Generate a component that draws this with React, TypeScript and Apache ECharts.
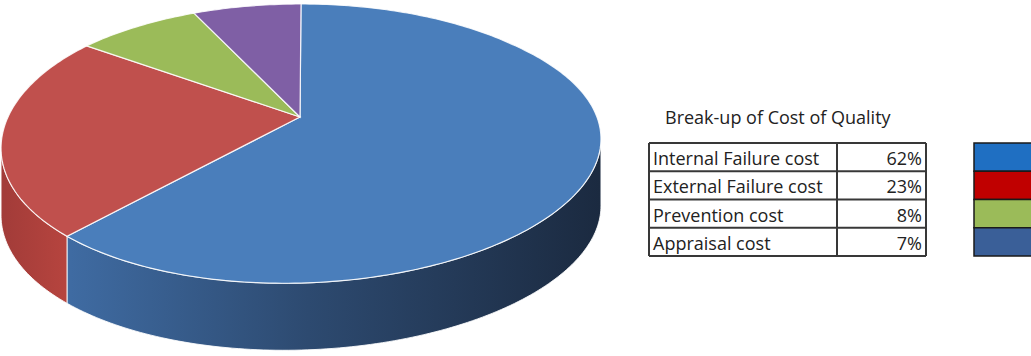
import React, { useEffect, useRef } from "react";
import * as echarts from "echarts";

const CATEGORIES = ["Internal Failure cost", "External Failure cost", "Prevention cost", "Appraisal cost"];
const VALUES = [62, 23, 8, 7];
const SLICE_COLORS = ["#4a7ebb", "#c0504d", "#9bbb59", "#7f5fa5"];
const LEGEND_COLORS = ["#1f6fc2", "#c00000", "#9bbb59", "#3a5f98"];
const TITLE = "Break-up of Cost of Quality";

// pie projection geometry (presentation only)
const CX = 301;
const CY = 117;
const R = 294.5;
const PA = 0.19;
const PB = 134.5;
const DEPTH = 67;
const VIS0 = (Math.acos(-PA) * 180) / Math.PI;
const VIS1 = 360 - VIS0;

function proj(deg: number, dy: number): number[] {
  const t = (deg * Math.PI) / 180;
  const X = Math.sin(t);
  const Z = Math.cos(t);
  const p = 1 / (1 + PA * Z);
  // slight roll so the left side sits a little lower than the right
  return [CX + R * X * p, CY - PB * Z * p + dy - 6 * X * Math.max(0, -Z + 0.6)];
}

function rim(a0: number, a1: number, dy: number): number[][] {
  const pts: number[][] = [];
  for (let t = a0; t < a1; t += 1) pts.push(proj(t, dy));
  pts.push(proj(a1, dy));
  return pts;
}

const SIDE_FILLS: any[] = [
  {
    type: "linear", x: 70, y: 0, x2: 600, y2: 0, global: true,
    colorStops: [
      { offset: 0, color: "#3f6ba2" },
      { offset: 0.45, color: "#2d4a70" },
      { offset: 1, color: "#1b2a40" },
    ],
  },
  {
    type: "linear", x: 5, y: 0, x2: 72, y2: 0, global: true,
    colorStops: [
      { offset: 0, color: "#a33c39" },
      { offset: 1, color: "#b8453f" },
    ],
  },
  "#7f9c46",
  "#684d89",
];

export default function App() {
  const ref = useRef<HTMLDivElement>(null);
  useEffect(() => {
    document.body.style.margin = "0";
    if (!ref.current) return;
    const chart = echarts.init(ref.current, null, { renderer: "svg" });
    const total = VALUES.reduce((s, v) => s + v, 0);
    const font = "Open Sans";
    const fs = 18;
    const tableLeft = 649;
    const tableRight = 926;
    const divider = 837;
    const top = 143;
    const rowH = 28.25;
    const lineColor = "#383838";
    const graphics: any[] = [];
    graphics.push({
      type: "text", x: 665, y: 117,
      style: { text: TITLE, fontSize: fs, fontFamily: font, fill: "#222", verticalAlign: "middle" },
    });
    CATEGORIES.forEach((c, i) => {
      const y0 = top + i * rowH;
      graphics.push({
        type: "text", x: tableLeft + 4, y: y0 + rowH / 2 + 1,
        style: { text: c, fontSize: fs, fontFamily: font, fill: "#222", verticalAlign: "middle" },
      });
      graphics.push({
        type: "text", x: tableRight - 4, y: y0 + rowH / 2 + 1,
        style: { text: `${VALUES[i]}%`, fontSize: fs, fontFamily: font, fill: "#222", align: "right", verticalAlign: "middle" },
      });
      graphics.push({
        type: "rect", shape: { x: 974, y: y0, width: 70, height: rowH },
        style: { fill: LEGEND_COLORS[i], stroke: "#1a1a1a", lineWidth: 1.5 },
      });
    });
    for (let i = 0; i <= CATEGORIES.length; i++) {
      const y = top + i * rowH;
      graphics.push({
        type: "line", shape: { x1: tableLeft, y1: y, x2: tableRight, y2: y },
        style: { stroke: lineColor, lineWidth: 2 },
      });
    }
    [tableLeft, divider, tableRight].forEach((x) => {
      graphics.push({
        type: "line", shape: { x1: x, y1: top, x2: x, y2: top + rowH * CATEGORIES.length },
        style: { stroke: lineColor, lineWidth: 2 },
      });
    });

    chart.setOption({
      animation: false,
      backgroundColor: "#ffffff",
      graphic: graphics,
      series: [
        {
          type: "custom",
          coordinateSystem: "none",
          data: VALUES.map((v, i) => ({ name: CATEGORIES[i], value: v })),
          renderItem: (params: any, api: any) => {
            const i = params.dataIndex;
            let before = 0;
            for (let j = 0; j < i; j++) before += VALUES[j];
            const v = api.value(0);
            const a0 = (before / total) * 360;
            const a1 = ((before + v) / total) * 360;
            const children: any[] = [];
            const s0 = Math.max(a0, VIS0);
            const s1 = Math.min(a1, VIS1);
            if (s1 > s0) {
              const upper = rim(s0, s1, 0);
              const lower = rim(s0, s1, DEPTH).reverse();
              children.push({
                type: "polygon",
                shape: { points: upper.concat(lower) },
                style: { fill: SIDE_FILLS[i], stroke: "rgba(255,255,255,0.85)", lineWidth: 1 },
                z2: 1,
              });
            }
            const face = [[CX - 1, CY]].concat(rim(a0, a1, 0));
            children.push({
              type: "polygon",
              shape: { points: face },
              style: { fill: SLICE_COLORS[i], stroke: "rgba(255,255,255,0.85)", lineWidth: 1.2 },
              z2: 10,
            });
            return { type: "group", children };
          },
        },
      ],
    });
    return () => chart.dispose();
  }, []);
  return <div ref={ref} style={{ width: 1031, height: 356 }} />;
}
